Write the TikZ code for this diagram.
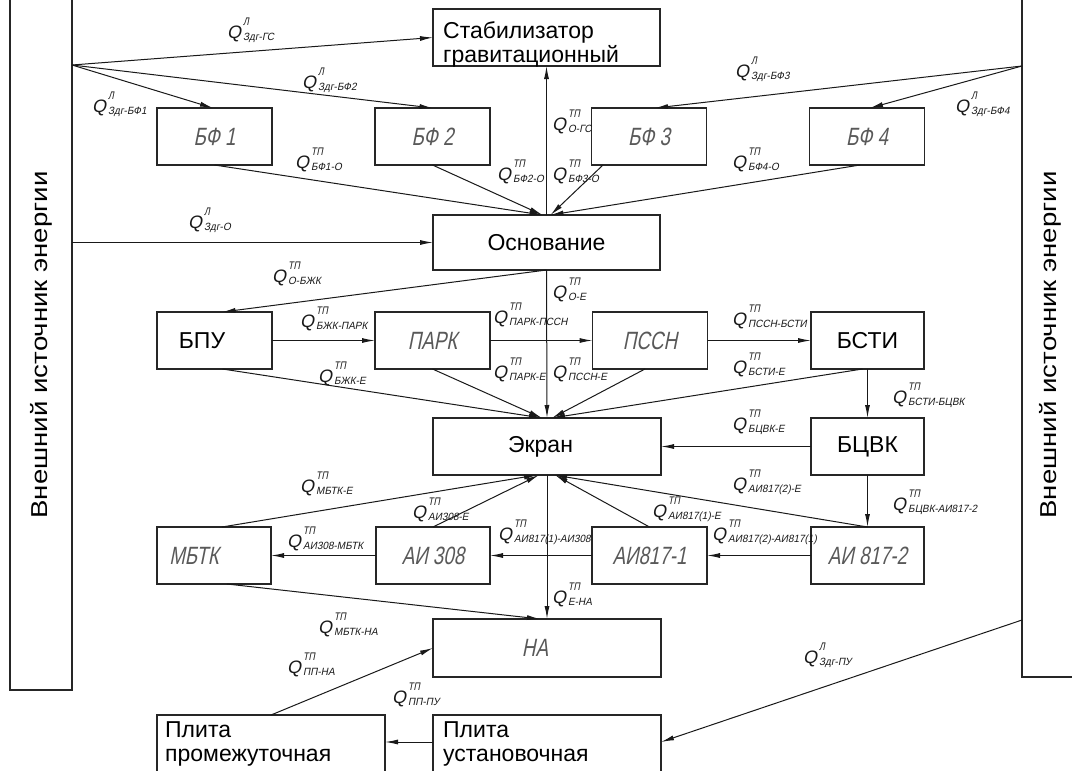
\documentclass[tikz,border=0pt]{standalone}
\usepackage{fontspec}
\setmainfont{Liberation Sans}
\newfontfamily\gostQ{Liberation Sans}[FakeSlant=0.2]
\newfontfamily\gostS{Liberation Sans}[FakeSlant=0.2,FakeStretch=0.8]
\newfontfamily\gostT{Liberation Sans}[FakeSlant=0.2,FakeStretch=0.95]
\newfontfamily\gostB{Liberation Sans}[FakeSlant=0.2,FakeStretch=0.75]
\newfontfamily\vfont{Liberation Sans}[FakeStretch=1.2]
\usetikzlibrary{arrows.meta}
\newcommand{\Qlab}[2]{{\gostQ\fontsize{18}{18}\selectfont Q}\kern2pt\rlap{\raisebox{12.5pt}{\gostS\fontsize{11}{11}\selectfont #1}}\raisebox{-2.5pt}{\gostT\fontsize{10.5}{10.5}\selectfont #2}}
\begin{document}
\begin{tikzpicture}[x=1pt,y=-1pt,
  box/.style={draw=black!85,line width=1.1pt,inner sep=0pt,outer sep=0pt},
  arr/.style={draw=black!90,line width=1pt,-{Latex[length=13pt,width=5pt]}},
  lab/.style={anchor=base west,inner sep=0pt,text=black!90},
  gl/.style={text=black!65,font=\gostB\fontsize{25}{25}\selectfont},
  bt/.style={font=\fontsize{23}{24}\selectfont},
  vt/.style={font=\vfont\fontsize{23}{24}\selectfont,rotate=90}]
\fill[white] (0,0) rectangle (1072,771);
\useasboundingbox (0,0) rectangle (1072,771);
\clip (0,0) rectangle (1072,771);
% sources
\node[box,minimum width=62,minimum height=710] (src1) at (41,335) {};
\node[vt] (src1t) at (41,345) {Внешний источник энергии};
\node[box,minimum width=63,minimum height=697] (src2) at (1053.5,328.5) {};
\node[vt] (src2t) at (1050,345) {Внешний источник энергии};
% boxes
\node[box,minimum width=227,minimum height=57] (stab) at (546.5,37.5) {};
\node[bt,anchor=north west,align=left,inner sep=0pt] (stabt) at (443,21) {Стабилизатор\\гравитационный};
\node[box,gl,minimum width=115,minimum height=57] (bf1) at (214.5,136.5) {БФ 1};
\node[box,gl,minimum width=115,minimum height=57] (bf2) at (432.5,136.5) {БФ 2};
\node[box,gl,minimum width=115,minimum height=57] (bf3) at (649,136.5) {БФ 3};
\node[box,gl,minimum width=115,minimum height=57] (bf4) at (867,136.5) {БФ 4};
\node[box,bt,minimum width=227,minimum height=55] (osn) at (546.5,242.5) {Основание};
\node[box,bt,minimum width=115,minimum height=57] (bpu) at (214.5,340.5) {БПУ\hspace*{25pt}};
\node[box,gl,minimum width=115,minimum height=57] (park) at (432.5,340.5) {ПАРК};
\node[box,gl,minimum width=115,minimum height=57] (pssn) at (650,340.5) {ПССН};
\node[box,bt,minimum width=113,minimum height=57] (bsti) at (867.5,340.5) {БСТИ};
\node[box,bt,minimum width=228,minimum height=57] (ek) at (547,446.5) {Экран\hspace*{13pt}};
\node[box,bt,minimum width=113,minimum height=57] (bcvk) at (867.5,446.5) {БЦВК};
\node[box,gl,minimum width=114,minimum height=57] (mbtk) at (214,555.5) {МБТК\hspace*{40pt}};
\node[box,gl,minimum width=114,minimum height=57] (ai308) at (433,555.5) {АИ 308};
\node[box,gl,minimum width=115,minimum height=57] (ai1) at (649.5,555.5) {АИ817-1};
\node[box,gl,minimum width=113,minimum height=57] (ai2) at (867.5,555.5) {АИ 817-2};
\node[box,gl,minimum width=228,minimum height=58] (na) at (547,648) {НА\hspace*{24pt}};
\node[box,minimum width=228,minimum height=85] (pp) at (271,757.5) {};
\node[bt,anchor=north west,align=left,inner sep=0pt] (ppt) at (165,721) {Плита\\промежуточная};
\node[box,minimum width=228,minimum height=85] (pu) at (547,757.5) {};
\node[bt,anchor=north west,align=left,inner sep=0pt] (put) at (443,721) {Плита\\установочная};
% source points
\coordinate (s1) at (72,65);
\coordinate (s2) at (72,242.5);
\coordinate (r1) at (1022,66);
\coordinate (r2) at (1022,620);
% connectors
\draw[arr] (s1) -- (stab.west);
\draw[arr] (s1) -- ([xshift=-1.5pt]bf1.north);
\draw[arr] (s1) -- (bf2.north);
\draw[arr] (r1) -- ([xshift=6pt]bf3.north);
\draw[arr] (r1) -- ([xshift=3pt]bf4.north);
\draw[arr] (bf1.south) -- ([xshift=-4pt]osn.north);
\draw[arr] (bf2.south) -- ([xshift=-4pt]osn.north);
\draw[arr] ([xshift=-46pt]bf3.south) -- ([xshift=4pt]osn.north);
\draw[arr] ([xshift=-7pt]bf4.south) -- ([xshift=4pt]osn.north);
\draw[arr] (osn.north) -- (stab.south);
\draw[arr] (s2) -- (osn.west);
\draw[arr] (osn.south) -- ([xshift=8pt]bpu.north);
\draw[arr] (bpu.east) -- (park.west);
\draw[arr] (park.east) -- (pssn.west);
\draw[arr] (pssn.east) -- (bsti.west);
\draw[arr] ([xshift=8pt]bpu.south) -- ([xshift=-5pt]ek.north);
\draw[arr] (park.south) -- ([xshift=-5pt]ek.north);
\draw[arr] ([xshift=-5pt]pssn.south) -- ([xshift=5pt]ek.north);
\draw[arr] ([xshift=-5pt]bsti.south) -- ([xshift=5pt]ek.north);
\draw[arr] (osn.south) -- (ek.north);
\draw[arr] (bsti.south) -- (bcvk.north);
\draw[arr] (bcvk.west) -- (ek.east);
\draw[arr] (bcvk.south) -- (ai2.north);
\draw[arr] (ai2.north) -- ([xshift=7pt]ek.south);
\draw[arr] (ai2.west) -- (ai1.east);
\draw[arr] (ai1.north) -- ([xshift=8pt]ek.south);
\draw[arr] (ai1.west) -- (ai308.east);
\draw[arr] (ai308.north) -- ([xshift=-8pt]ek.south);
\draw[arr] ([xshift=8pt]mbtk.north) -- ([xshift=-10pt]ek.south);
\draw[arr] (ai308.west) -- (mbtk.east);
\draw[arr] (ek.south) -- (na.north);
\draw[arr] ([xshift=13pt]mbtk.south) -- ([xshift=-7pt]na.north);
\draw[arr] (pp.north) -- (na.west);
\draw[arr] ([yshift=15.5pt]pu.west) -- ([yshift=15.5pt]pp.east);
\draw[arr] (r2) -- ([yshift=15.5pt]pu.east);
% labels
\node[lab] (q1) at (227,38) {\Qlab{Л}{Здг-ГС}};
\node[lab] (q2) at (302,88) {\Qlab{Л}{Здг-БФ2}};
\node[lab] (q3) at (92,112) {\Qlab{Л}{Здг-БФ1}};
\node[lab] (q4) at (295,168) {\Qlab{ТП}{БФ1-О}};
\node[lab] (q5) at (497,180) {\Qlab{ТП}{БФ2-О}};
\node[lab] (q6) at (552,180) {\Qlab{ТП}{БФ3-О}};
\node[lab] (q7) at (552,130) {\Qlab{ТП}{О-ГС}};
\node[lab] (q8) at (735,77) {\Qlab{Л}{Здг-БФ3}};
\node[lab] (q9) at (955,112) {\Qlab{Л}{Здг-БФ4}};
\node[lab] (q10) at (732,168) {\Qlab{ТП}{БФ4-О}};
\node[lab] (q11) at (188,228) {\Qlab{Л}{Здг-О}};
\node[lab] (q12) at (272,282) {\Qlab{ТП}{О-БЖК}};
\node[lab] (q13) at (300,327) {\Qlab{ТП}{БЖК-ПАРК}};
\node[lab] (q14) at (318,382) {\Qlab{ТП}{БЖК-Е}};
\node[lab] (q15) at (552,298) {\Qlab{ТП}{О-Е}};
\node[lab] (q16) at (493,323) {\Qlab{ТП}{ПАРК-ПССН}};
\node[lab] (q17) at (493,378) {\Qlab{ТП}{ПАРК-Е}};
\node[lab] (q18) at (552,378) {\Qlab{ТП}{ПССН-Е}};
\node[lab] (q19) at (732,325) {\Qlab{ТП}{ПССН-БСТИ}};
\node[lab] (q20) at (732,373) {\Qlab{ТП}{БСТИ-Е}};
\node[lab] (q21) at (892,403) {\Qlab{ТП}{БСТИ-БЦВК}};
\node[lab] (q22) at (732,430) {\Qlab{ТП}{БЦВК-Е}};
\node[lab] (q23) at (732,490) {\Qlab{ТП}{АИ817(2)-Е}};
\node[lab] (q24) at (892,510) {\Qlab{ТП}{БЦВК-АИ817-2}};
\node[lab] (q25) at (712,540) {\Qlab{ТП}{АИ817(2)-АИ817(1)}};
\node[lab] (q26) at (652,517) {\Qlab{ТП}{АИ817(1)-Е}};
\node[lab] (q27) at (498,540) {\Qlab{ТП}{АИ817(1)-АИ308}};
\node[lab] (q28) at (412,518) {\Qlab{ТП}{АИ308-Е}};
\node[lab] (q29) at (300,492) {\Qlab{ТП}{МБТК-Е}};
\node[lab] (q30) at (287,547) {\Qlab{ТП}{АИ308-МБТК}};
\node[lab] (q31) at (552,603) {\Qlab{ТП}{Е-НА}};
\node[lab] (q32) at (318,633) {\Qlab{ТП}{МБТК-НА}};
\node[lab] (q33) at (287,673) {\Qlab{ТП}{ПП-НА}};
\node[lab] (q34) at (392,703) {\Qlab{ТП}{ПП-ПУ}};
\node[lab] (q35) at (803,663) {\Qlab{Л}{Здг-ПУ}};
\end{tikzpicture}
\end{document}
